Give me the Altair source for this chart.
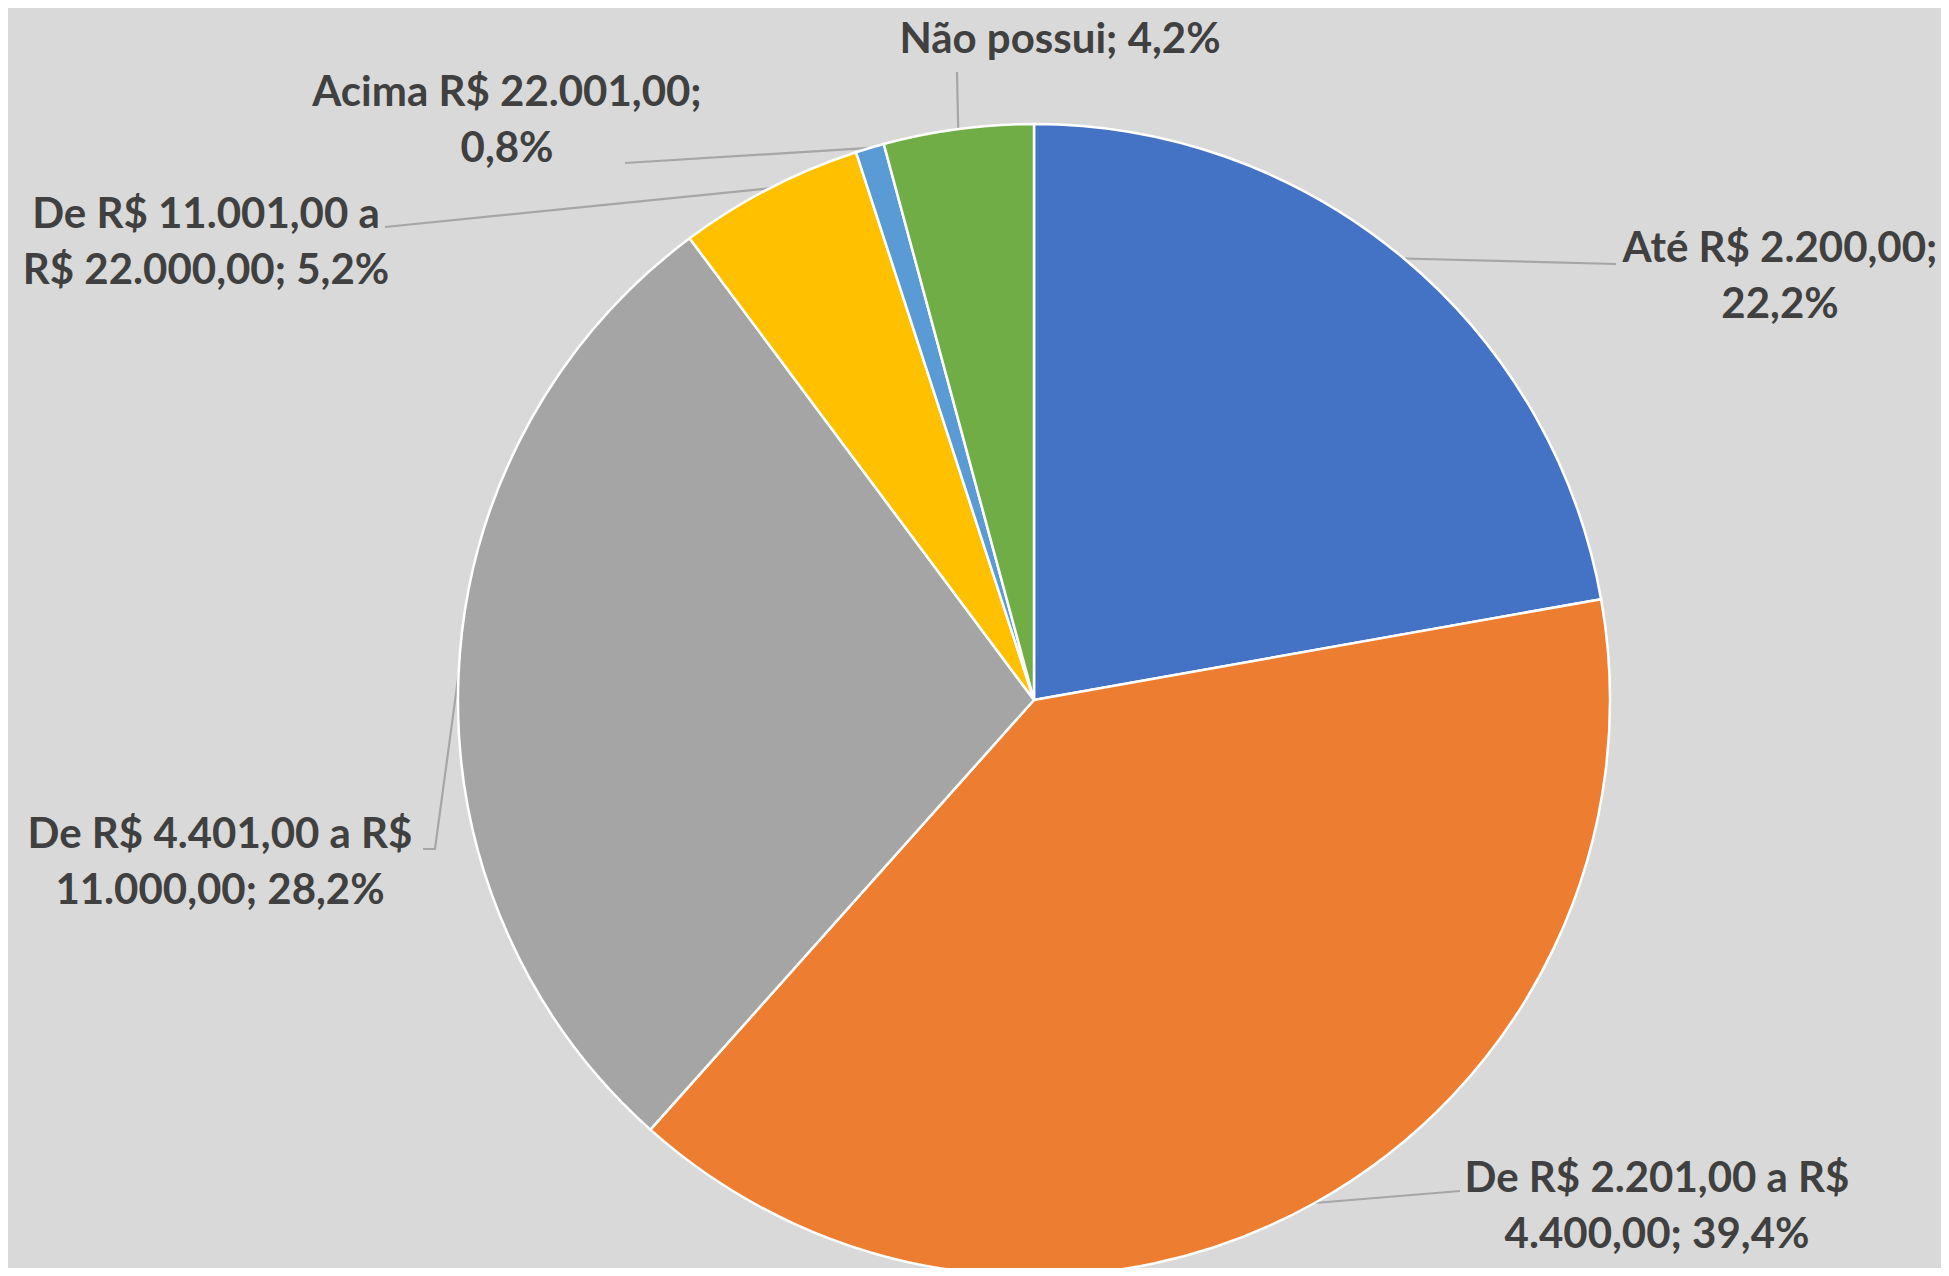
import math
import altair as alt
import pandas as pd

# ---- data ----
categories = [
    "Até R$ 2.200,00",
    "De R$ 2.201,00 a R$ 4.400,00",
    "De R$ 4.401,00 a R$ 11.000,00",
    "De R$ 11.001,00 a R$ 22.000,00",
    "Acima R$ 22.001,00",
    "Não possui",
]
values = [22.2, 39.4, 28.2, 5.2, 0.8, 4.2]
label_lines = [
    ["Até R$ 2.200,00;", "22,2%"],
    ["De R$ 2.201,00 a R$", "4.400,00; 39,4%"],
    ["De R$ 4.401,00 a R$", "11.000,00; 28,2%"],
    ["De R$ 11.001,00 a", "R$ 22.000,00; 5,2%"],
    ["Acima R$ 22.001,00;", "0,8%"],
    ["Não possui; 4,2%"],
]
colors = ["#4472C4", "#ED7D31", "#A5A5A5", "#FFC000", "#5B9BD5", "#70AD47"]

# ---- layout (pixels) ----
W, H = 1933, 1260
CX, CY, R = 1026, 692, 576
FS = 42
LH = 56
# label block centre and leader end, relative to pie centre
label_pos = [(746, -423), (623, 507), (-814, 163), (-828, -457), (-527, -579), (26, -660)]
leader_pts = [
    [(582, -436)],
    [(426, 491)],
    [(-599, 149), (-611, 149)],
    [(-649, -473)],
    [(-409, -537)],
    [(-77, -628)],
]

df = pd.DataFrame({"cat": categories, "value": values, "idx": list(range(len(values)))})

total = sum(values)
rows_txt, rows_line = [], []
cum = 0.0
for i, v in enumerate(values):
    mid = (cum + v / 2) / total * 2 * math.pi
    cum += v
    sx, sy = CX + R * math.sin(mid), CY - R * math.cos(mid)
    pts = [(sx, sy)] + [(CX + dx, CY + dy) for dx, dy in leader_pts[i]]
    for k, (px, py) in enumerate(pts):
        rows_line.append({"cat": categories[i], "k": k, "x": px, "y": py})
    lines = label_lines[i]
    bx, by = CX + label_pos[i][0], CY + label_pos[i][1]
    n = len(lines)
    for j, t in enumerate(lines):
        rows_txt.append({"t": t, "x": bx, "y": by + (j - (n - 1) / 2) * LH})

txt = pd.DataFrame(rows_txt)
lns = pd.DataFrame(rows_line)

pie = alt.Chart(df).mark_arc(radius=R, stroke="white", strokeWidth=2.5).encode(
    theta=alt.Theta("value:Q", stack=True),
    color=alt.Color("cat:N", scale=alt.Scale(domain=categories, range=colors), legend=None),
    order=alt.Order("idx:Q"),
    x=alt.value(CX),
    y=alt.value(CY),
)

leaders = alt.Chart(lns).mark_line(color="#A6A6A6", strokeWidth=2.2).encode(
    x=alt.X("x:Q", scale=None),
    y=alt.Y("y:Q", scale=None),
    detail="cat:N",
    order="k:Q",
)

labels = alt.Chart(txt).mark_text(
    font="Lato", fontSize=FS, fontWeight="bold", color="#404040",
    align="center", baseline="middle",
).encode(
    x=alt.X("x:Q", scale=None),
    y=alt.Y("y:Q", scale=None),
    text="t:N",
)

chart = (
    alt.layer(leaders, pie, labels)
    .properties(width=W, height=H, autosize=alt.AutoSizeParams(type="none"), padding=0, background="#D9D9D9")
    .configure_view(strokeWidth=0)
)

chart.save("out.html", embed_options={"renderer": "svg", "actions": False})
